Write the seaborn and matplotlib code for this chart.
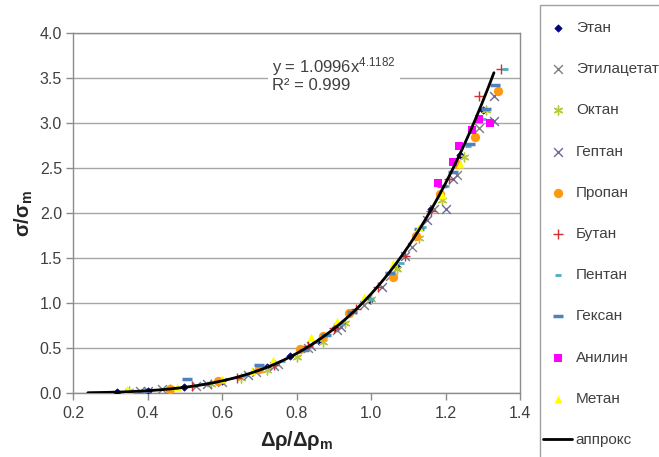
import numpy as np
import pandas as pd
import matplotlib
matplotlib.use("Agg")
import matplotlib.pyplot as plt
import matplotlib.patches as mpatches
import seaborn as sns

# values (x = Δρ/Δρm, y = σ/σm)
ethane_x = [0.318, 0.40, 0.498, 0.60, 0.72, 0.783, 0.86, 0.903, 0.997, 1.07, 1.12, 1.161, 1.24, 1.30]
ethane_y = [0.01, 0.02, 0.07, 0.13, 0.29, 0.41, 0.58, 0.72, 1.03, 1.40, 1.75, 2.04, 2.65, 3.15]

ethylacetate_x = [0.38, 0.44, 0.53, 0.60, 0.69, 0.75, 0.83, 0.91, 0.98, 1.05, 1.11, 1.17, 1.23, 1.29]
ethylacetate_y = [0.02, 0.04, 0.08, 0.12, 0.23, 0.32, 0.50, 0.70, 0.98, 1.30, 1.62, 2.05, 2.42, 2.95]

octane_x = [0.35, 0.46, 0.57, 0.65, 0.72, 0.80, 0.87, 0.93, 1.00, 1.07, 1.13, 1.19, 1.25, 1.31]
octane_y = [0.02, 0.05, 0.10, 0.17, 0.26, 0.40, 0.57, 0.78, 1.04, 1.38, 1.72, 2.15, 2.62, 3.15]

heptane_x = [0.40, 0.56, 0.67, 0.74, 0.84, 0.92, 1.03, 1.09, 1.15, 1.20, 1.22, 1.33, 1.33]
heptane_y = [0.02, 0.10, 0.20, 0.30, 0.52, 0.73, 1.18, 1.52, 1.92, 2.05, 2.38, 3.02, 3.30]

propane_x = [0.46, 0.59, 0.70, 0.81, 0.87, 0.94, 1.06, 1.12, 1.185, 1.23, 1.28, 1.34]
propane_y = [0.05, 0.13, 0.27, 0.49, 0.63, 0.89, 1.29, 1.74, 2.21, 2.55, 2.85, 3.36]

butane_x = [0.52, 0.64, 0.74, 0.83, 0.90, 0.96, 1.02, 1.09, 1.16, 1.21, 1.29, 1.35]
butane_y = [0.08, 0.17, 0.31, 0.52, 0.72, 0.93, 1.18, 1.52, 2.02, 2.38, 3.30, 3.60]

pentane_x = [0.39, 0.55, 0.66, 0.76, 0.85, 0.92, 1.00, 1.08, 1.14, 1.20, 1.26, 1.30, 1.36]
pentane_y = [0.02, 0.10, 0.20, 0.36, 0.57, 0.77, 1.05, 1.45, 1.85, 2.30, 2.75, 3.05, 3.60]

hexane_x = [0.506, 0.70, 0.82, 0.88, 0.95, 1.05, 1.13, 1.19, 1.22, 1.266, 1.31, 1.333]
hexane_y = [0.155, 0.31, 0.48, 0.65, 0.90, 1.33, 1.82, 2.30, 2.45, 2.77, 3.16, 3.42]

aniline_x = [1.18, 1.22, 1.235, 1.27, 1.29, 1.32]
aniline_y = [2.33, 2.57, 2.74, 2.92, 3.05, 3.00]

methane_x = [0.345, 0.48, 0.60, 0.68, 0.737, 0.84, 0.91, 0.98, 1.06, 1.13, 1.19, 1.24]
methane_y = [0.05, 0.07, 0.16, 0.25, 0.37, 0.62, 0.80, 1.07, 1.45, 1.85, 2.20, 2.55]

# power trendline shown on the chart
fit_a = 1.0996
fit_b = 4.1182
fit_x_min, fit_x_max = 0.24, 1.33

x_ticks = [0.2, 0.4, 0.6, 0.8, 1.0, 1.2, 1.4]
y_ticks = [0.0, 0.5, 1.0, 1.5, 2.0, 2.5, 3.0, 3.5, 4.0]

series = [
    ("Этан", ethane_x, ethane_y, "D", "#000080", 14, 0.5),
    ("Этилацетат", ethylacetate_x, ethylacetate_y, "x", "#7f7f7f", 40, 1.0),
    ("Октан", octane_x, octane_y, (6, 2, 0), "#b8c83c", 40, 1.0),
    ("Гептан", heptane_x, heptane_y, "x", "#6e6a96", 40, 1.0),
    ("Пропан", propane_x, propane_y, "o", "#ff9a10", 45, 0.0),
    ("Бутан", butane_x, butane_y, "+", "#d03030", 45, 1.0),
    ("Пентан", pentane_x, pentane_y, "_", "#4bacc6", 25, 2.0),
    ("Гексан", hexane_x, hexane_y, "_", "#4f81bd", 45, 2.5),
    ("Анилин", aniline_x, aniline_y, "s", "#ff00ff", 30, 0.0),
    ("Метан", methane_x, methane_y, "^", "#ffff00", 32, 0.0),
]

sns.set_theme(style="white")
plt.rcParams["font.family"] = ["Liberation Sans", "DejaVu Sans"]
plt.rcParams["mathtext.fontset"] = "custom"
plt.rcParams["mathtext.rm"] = "Liberation Sans"
plt.rcParams["mathtext.it"] = "Liberation Sans:italic"
plt.rcParams["mathtext.bf"] = "Liberation Sans:bold"

W, H = 659, 457
fig = plt.figure(figsize=(W / 100, H / 100), dpi=100)
ax = fig.add_axes([73 / W, 1 - 393 / H, 447 / W, 360 / H])

for name, xs, ys, marker, color, size, lw in series:
    df = pd.DataFrame({"x": xs, "y": ys})
    if marker in ("x", "+", "_", (6, 2, 0)):
        sns.scatterplot(data=df, x="x", y="y", ax=ax, marker=marker, color=color,
                        s=size, linewidth=lw, label=name, legend=False, zorder=3)
    else:
        sns.scatterplot(data=df, x="x", y="y", ax=ax, marker=marker, color=color,
                        s=size, edgecolor=color, linewidth=lw, label=name,
                        legend=False, zorder=3)

fit_x = np.linspace(fit_x_min, fit_x_max, 200)
fit_df = pd.DataFrame({"x": fit_x, "y": fit_a * fit_x ** fit_b})
sns.lineplot(data=fit_df, x="x", y="y", ax=ax, color="black", linewidth=2,
             label="аппрокс", legend=False, zorder=4)

ax.set_xlim(0.2, 1.4)
ax.set_ylim(0, 4)
ax.set_xticks(x_ticks)
ax.set_yticks(y_ticks)
ax.set_xticklabels([f"{t:.1f}" for t in x_ticks])
ax.set_yticklabels([f"{t:.1f}" for t in y_ticks])
ax.yaxis.grid(True, color="#a6a6a6", linewidth=1)
ax.xaxis.grid(False)
ax.set_axisbelow(True)
for sp in ax.spines.values():
    sp.set_color("#8c8c8c")
    sp.set_linewidth(1)
ax.tick_params(axis="both", direction="out", length=5, width=1, color="#8c8c8c",
               labelsize=11.5, labelcolor="#404040", left=True, bottom=True)
ax.tick_params(axis="x", pad=4)
ax.tick_params(axis="y", pad=3)

ax.set_xlabel(r"$\mathbf{\Delta\rho/\Delta\rho_m}$", fontsize=14.5, labelpad=6)
ax.set_ylabel(r"$\mathbf{\sigma/\sigma_m}$", fontsize=14.5, labelpad=3)

ax.text(0.734, 3.76, "y = 1.0996x$^{4.1182}$\nR² = 0.999", fontsize=12,
        color="#404040", va="top", ha="left", linespacing=1.0,
        bbox=dict(facecolor="white", edgecolor="none", pad=3), zorder=2)

# legend frame runs off the right and bottom edges like in the reference
fig.patches.append(mpatches.Rectangle((540 / W, -0.1), 0.3, 1.1 - 5 / H,
                                      transform=fig.transFigure, facecolor="white",
                                      edgecolor="#a0a0a0", linewidth=1, zorder=0))

handles, labels = ax.get_legend_handles_labels()
leg = fig.legend(handles, labels, loc="upper left",
                 bbox_to_anchor=(543 / W, 1 - 21 / H),
                 borderaxespad=0, borderpad=0, fontsize=11, labelspacing=1.78,
                 handlelength=1.9, handletextpad=0.25, frameon=False)
for t in leg.get_texts():
    t.set_color("#404040")

fig.savefig("out.png", dpi=100, facecolor="white")
